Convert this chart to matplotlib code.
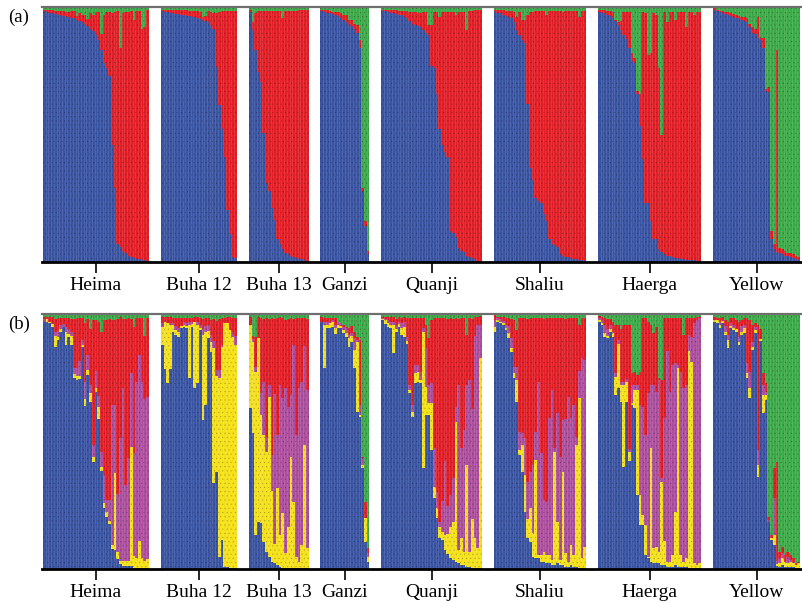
import numpy as np
import matplotlib
matplotlib.use("Agg")
import matplotlib.pyplot as plt

plt.rcParams['font.family'] = ['Liberation Serif', 'DejaVu Serif']
plt.rcParams['hatch.linewidth'] = 0.35

# Poblaciones y número de individuos (orden de izquierda a derecha)
poblaciones = ['Heima', 'Buha 12', 'Buha 13', 'Ganzi', 'Quanji', 'Shaliu', 'Haerga', 'Yellow']

# ---------- Panel (a), K = 3: azul (abajo) y verde (arriba) en %, rojo = resto ----------
heima_a_blue = [98.5, 98, 97.8, 97.5, 97.2, 97, 96.8, 96.5, 96.2, 96, 95.8, 95.5, 95, 94.5, 94, 93.5,
                92.5, 91.5, 90.5, 89, 87, 83, 78, 76, 73, 46, 29, 7, 6, 4.5, 3.5, 2.5, 1.8, 1.5, 1.2,
                1, 0.8, 0.6, 0.5]
heima_a_green = [1, 1, 1.2, 1.2, 1.5, 1.5, 1.5, 1.5, 1.8, 2, 1.5, 1.5, 3.5, 2.5, 3.3, 3, 4.6, 2.5, 3,
                 2, 2, 10.5, 3, 2, 2, 2.5, 2, 1.5, 16, 2.5, 2, 2, 1.5, 5, 1.5, 1.5, 8.5, 8, 1]
buha12_a_blue = [98.5, 98.2, 98, 97.8, 97.6, 97.4, 97.2, 97, 96.8, 96.6, 96.4, 96.2, 96, 95.7, 95.4,
                 95, 94.5, 94, 93, 91.5, 76.5, 61.5, 52, 41, 20.5, 11, 2, 1.5]
buha12_a_green = [1, 1, 1, 1, 1, 1, 1, 1.2, 1.2, 1.2, 1.5, 1.5, 1.5, 1.5, 2, 3.9, 3.5, 1.5, 2, 2.5,
                  2.5, 2, 1.5, 1.5, 1.5, 1.5, 1.5, 1.5]
buha13_a_blue = [98, 91, 83, 74.5, 70.5, 50.5, 31, 28, 21, 16.5, 9, 7, 5, 3.5, 3, 2.5, 2, 1.5, 1.2,
                 1, 0.8, 0.5]
buha13_a_green = [1, 6, 2.5, 1.5, 1.5, 1.5, 1.5, 1.5, 1.5, 1.5, 1.5, 1.5, 4.5, 1.5, 1.5, 1.5, 1.5,
                  1.5, 1, 1, 1, 1]
ganzi_a_blue = [98.5, 98, 97.8, 97.5, 97.2, 97, 96.5, 95.5, 95, 94, 93.5, 92.5, 91.5, 90, 84, 28, 14, 3]
ganzi_a_green = [1, 1.2, 1.2, 1.5, 2, 2, 2, 2.5, 3, 3, 5, 5, 6.5, 7, 13, 71, 84, 95.5]
quanji_a_blue = [98.5, 98.3, 98, 97.8, 97.6, 97.4, 97, 96.8, 96.2, 95.5, 94.5, 93.5, 93, 92.5, 92, 91,
                 90, 89, 77, 76, 66, 52, 46, 43, 41, 12, 11.5, 10, 5.5, 4.5, 4, 2.5, 2, 1.5, 1, 0.5, 0.3]
quanji_a_green = [1, 1, 1, 1, 1.2, 1.2, 1.5, 1.5, 1.5, 1.5, 2, 2, 2, 2.5, 2.5, 2, 2, 7, 7, 2, 2, 4, 2,
                  2, 2, 2, 2, 3, 2, 2, 2, 9, 1.5, 1.5, 1, 1, 1]
shaliu_a_blue = [98.5, 97.8, 97.5, 97, 96.5, 96, 95.5, 94, 91, 89, 87, 86, 62, 37, 32, 25, 24, 23, 19,
                 16, 9, 7, 6.5, 6, 3, 2.5, 2, 2, 1.5, 1.2, 1, 0.8, 0.6, 0.5]
shaliu_a_green = [1, 1, 1, 1.2, 1.5, 1.5, 1.5, 2, 4, 2, 5, 5, 3, 2, 2, 1.5, 1.5, 1.5, 1.5, 3, 1.5,
                  1.5, 1.5, 1.5, 1.5, 2, 1.5, 1.5, 1.5, 1.5, 1.5, 4, 1.5, 1.5]
haerga_a_blue = [98, 97.8, 97.5, 97, 96.3, 95.8, 94.5, 92.8, 91, 89, 87.5, 84, 79, 78, 66, 53.5, 40.5,
                 23, 23, 16, 9, 9, 5, 4, 3.3, 2.5, 2.2, 2, 1.6, 1.5, 1.3, 1, 0.8, 0.8, 0.7, 0.6, 0.5, 0.5]
haerga_a_green = [1, 1, 1.2, 1.5, 1.5, 2, 5, 6, 5.5, 2, 2, 2, 18, 20, 33, 34, 2, 2.5, 19, 18, 2.5, 3,
                  24, 50, 2, 6, 2, 2, 5, 2, 2, 2, 8, 2, 2, 3, 2, 2]
yellow_a_blue = [99, 98.5, 98, 97.5, 97.2, 97, 96.5, 96.2, 95.8, 95.5, 95, 94.5, 94, 92, 90, 89.5, 88,
                 87, 84, 67, 66.5, 9, 5, 4, 3.5, 3, 2.5, 2.2, 2, 1.5, 1, 0.8]
yellow_a_green = [0.5, 1, 1.5, 1.7, 2, 2, 2.5, 2.8, 3.2, 3.5, 4, 4, 4.5, 6.5, 8, 8.5, 4, 12, 12, 32,
                  31.5, 88, 93, 17, 94.5, 95, 95.5, 96.3, 96.5, 97, 97.5, 98.2]

# ---------- Panel (b), K = 5: (azul, amarillo, morado, rojo, verde) en % ----------
heima_b = [(97, 0, 1, 1, 1), (97, 1, 0, 1, 1), (96.5, 0.5, 0, 2, 1), (95, 1, 0, 3, 1),
           (87, 4.5, 1.5, 5, 2), (90, 1, 2.5, 5, 1.5), (93, 1, 1.5, 3, 1.5), (95, 0, 1, 2.5, 1.5),
           (88, 5, 2, 3.5, 1.5), (91, 1, 2, 4.5, 1.5), (88, 3.5, 1.5, 5, 2), (75, 1.5, 2.5, 19, 2),
           (74, 1.5, 3.5, 19.5, 1.5), (74.5, 1, 6, 17, 1.5), (87, 1, 2, 8.5, 1.5), (64, 2.5, 7, 23, 3.5),
           (76, 2, 6, 14, 2), (65.5, 3.5, 3, 22, 6), (42, 2, 4.5, 49, 2.5), (69.5, 1.5, 6.5, 20, 2.5),
           (59, 4.5, 4.5, 29, 3), (38.5, 1.5, 6, 47, 7), (24, 2, 11, 60.5, 2.5), (20.5, 2, 4.5, 70.5, 2.5),
           (17.5, 1.5, 8, 71, 2), (8, 1.5, 55, 33, 2.5), (7.5, 30, 27, 33, 2.5), (4, 2.5, 23, 68.5, 2),
           (2, 1, 48.5, 47.5, 1), (1, 2, 68, 27, 2), (1, 2, 30, 65, 2), (1, 2, 40.5, 55, 1.5),
           (1, 47, 29, 21, 2), (0.5, 4.5, 40.5, 49.5, 5), (0.5, 4, 69, 25, 1.5), (0.5, 10.5, 73, 14.5, 1.5),
           (0.5, 4, 69, 25, 1.5), (0.5, 2.5, 63.5, 25, 8.5), (0.5, 3.5, 63.5, 31, 1.5)]
buha12_b = [(88, 7, 1.5, 2.5, 1), (78.5, 18.5, 0, 2, 1), (73, 23.5, 0, 2.5, 1), (78.5, 17, 1, 2.5, 1),
            (93, 2.6, 0.7, 2.2, 1.5), (91.8, 2, 1.3, 3.3, 1.6), (91.1, 2, 1.6, 3.7, 1.6),
            (94.4, 1, 0, 2.9, 1.7), (95, 0.7, 1, 1.6, 1.7), (94.4, 1, 1, 2, 1.6),
            (74.8, 20.9, 1.3, 1.6, 1.4), (95, 1, 1, 1.5, 1.5), (70.8, 26.1, 0, 2, 1.1),
            (72.8, 22.9, 1, 2, 1.3), (93.7, 0.7, 1.3, 2.6, 1.7), (58.4, 33.3, 2.6, 3.9, 1.8),
            (64.3, 28.8, 2, 3.3, 1.6), (90.5, 3, 2, 3, 1.5), (85.2, 3.9, 2.6, 5.9, 2.4),
            (33.6, 52.9, 3, 8.5, 2), (38.2, 37.3, 2.6, 19, 2.9), (4.8, 70, 3.3, 20, 1.9),
            (11.4, 75.8, 0.7, 10.5, 1.6), (0.9, 95.4, 0, 2, 1.7), (0.9, 95.4, 0, 2.6, 1.1),
            (0.3, 93.5, 0, 5.2, 1), (0.3, 90.8, 2, 5.2, 1.7), (0.3, 87.6, 3.3, 7.2, 1.6)]
buha13_b = [(63, 32.5, 0, 3.5, 1), (53.2, 36, 1, 1, 8.8), (13.3, 64, 2, 11.8, 8.9), (18.6, 71.9, 0, 8.5, 1),
            (17.9, 42.5, 8.5, 29.4, 1.7), (10.7, 41.8, 20.9, 24.8, 1.8), (6.8, 39.2, 5.9, 46.4, 1.7),
            (4.8, 62.7, 4.6, 26.1, 1.8), (2.9, 27.5, 14.4, 53.6, 1.6), (2.2, 7.8, 58.8, 29.4, 1.8),
            (1.6, 30, 21, 45.8, 1.6), (0.9, 12.4, 58.8, 26.8, 1.1), (0.3, 21.6, 45, 31.4, 1.7),
            (0.3, 5.9, 64.7, 26.8, 2.3), (0.3, 16.3, 47, 34.6, 1.8), (0.3, 43.8, 24.2, 30, 1.7),
            (0.3, 26, 61.4, 10.5, 1.8), (0.3, 4.6, 47.7, 45.8, 1.6), (0.3, 2.6, 68, 27.5, 1.6),
            (0.3, 9.2, 64, 24.8, 1.7), (0.3, 48.4, 38.6, 11.1, 1.6), (0.3, 7.8, 62, 28.1, 1.8)]
ganzi_b = [(97, 0, 0, 2, 1), (78.7, 17, 1.3, 1.3, 1.7), (94.4, 1.3, 1.3, 1.6, 1.4), (94.6, 1.7, 0, 2, 1.7),
           (95, 2, 0.7, 0.9, 1.4), (92, 2.4, 1.3, 2.6, 1.7), (94.4, 1.3, 1.3, 0, 3), (94.4, 0.7, 1.3, 0, 3.6),
           (92.4, 1.3, 1.3, 0.7, 4.3), (91.1, 1.3, 2, 0.6, 5), (87.2, 3.3, 1.3, 2.6, 5.6),
           (89.2, 2, 1.3, 2.6, 4.9), (78.7, 7.2, 4.6, 2.6, 6.9), (61.7, 27.5, 0.6, 1.3, 8.9),
           (59.7, 0.6, 3.9, 25.5, 10.2), (39.5, 1.3, 2.6, 0.7, 55.9), (10.7, 9.2, 0, 6.5, 73.6),
           (2.9, 2, 1.3, 2, 91.8)]
quanji_b = [(97.5, 0.5, 0.5, 0.5, 1), (96.3, 1.3, 0.5, 1, 1), (95, 1.3, 1.3, 1.3, 1.1), (94.4, 1.3, 1.3, 2, 1),
            (84.6, 11.1, 1.3, 2, 1), (93, 1.3, 1.3, 2.6, 1.8), (95, 1, 1, 2, 1), (91.8, 2.6, 2, 2, 1.6),
            (91.1, 3.9, 2, 2, 1), (88.1, 1.3, 1.7, 7.2, 1.7), (69, 1.3, 2, 26.1, 1.6), (59.7, 2, 2.6, 34, 1.7),
            (72.8, 3.9, 3.3, 18.3, 1.7), (73.5, 3.9, 2.6, 18.3, 1.7), (72.8, 1.3, 3.3, 20.9, 1.7),
            (39.5, 53.6, 1.3, 3.9, 1.7), (60.4, 11.1, 15, 9.2, 4.3), (60.4, 4.6, 7.2, 18.3, 9.5),
            (46.7, 18.3, 7.8, 24.8, 2.4), (27.7, 4.6, 15, 51, 1.7), (19.9, 3.9, 6.5, 68, 1.7),
            (12, 4.6, 2, 79.7, 1.7), (11.4, 3.3, 11.8, 71.9, 1.6), (7.5, 5.9, 28.8, 56.2, 1.6),
            (6, 7.8, 11.1, 73.2, 1.9), (4.2, 12.4, 12.4, 69.3, 1.7), (3.5, 15, 17, 62.7, 1.8),
            (2.9, 54.9, 5.9, 34.6, 1.7), (2.2, 5.2, 64.7, 26.1, 1.8), (1.6, 10.5, 35.3, 51, 1.6),
            (1.6, 5.2, 47.7, 43.8, 1.7), (0.9, 39.9, 31.4, 19.6, 8.2), (0.9, 5.9, 67.3, 24.2, 1.7),
            (0.5, 19.3, 43.1, 35.3, 1.8), (0.3, 11.8, 79.1, 7.8, 1), (0.3, 7.8, 87.6, 3.3, 1),
            (0.3, 82.4, 13.1, 3.3, 0.9)]
shaliu_b = [(93.1, 1.9, 2.6, 2, 0.4), (97, 0.7, 0.7, 0.6, 1), (96.3, 0.7, 1, 1, 1), (95.7, 0.7, 1, 1.6, 1),
            (93.7, 0.7, 1.3, 2.6, 1.7), (90.5, 2, 2.6, 3.3, 1.6), (85.2, 1.3, 3.9, 7.8, 1.8),
            (74.8, 2, 2.6, 18.3, 2.3), (65.6, 8.5, 5.2, 14.4, 6.3), (44.7, 2, 7.2, 44.4, 1.7),
            (38.2, 10.5, 4.6, 45, 1.7), (22.5, 14.4, 14.4, 47, 1.7), (12, 7.8, 14.4, 64, 1.8),
            (10.7, 13.1, 14.4, 60.1, 1.7), (4.8, 9.2, 26.8, 57.5, 1.7), (4.2, 38.6, 11.1, 44.4, 1.7),
            (4.2, 1.3, 68, 24.8, 1.7), (2.9, 2.6, 39.9, 52.9, 1.7), (2.9, 3.9, 20.3, 71, 1.9),
            (2.2, 3.3, 20.9, 71.9, 1.7), (2.2, 3.3, 53.6, 39.2, 1.7), (1.6, 2, 66.7, 28.1, 1.6),
            (1.6, 44.4, 1.3, 51, 1.7), (2.2, 16.3, 42.5, 37.3, 1.7), (1.6, 2, 40.5, 54.2, 1.7),
            (1.6, 36.6, 20.3, 39.9, 1.6), (0.9, 5.2, 52.9, 39.2, 1.8), (0.9, 2, 64.7, 30.7, 1.7),
            (1.6, 7.8, 49.7, 39.2, 1.7), (0.9, 4.6, 58.8, 34, 1.7), (0.9, 47.7, 3.3, 46.4, 1.7),
            (0.3, 66.7, 10.5, 18.3, 4.2), (0.3, 3.9, 78.4, 15.7, 1.7), (0.3, 8.5, 73.2, 16.3, 1.7)]
haerga_b = [(97, 0.7, 0.7, 0.7, 0.9), (95.7, 0.7, 1.3, 1.3, 1), (91.1, 1.3, 3.3, 2.6, 1.7),
            (90.5, 0.7, 3, 4, 1.8), (93, 1.3, 1.3, 2.6, 1.8), (91.1, 1.3, 0.7, 3.9, 3),
            (68.2, 7.2, 1.3, 19, 4.3), (70.8, 17.6, 1.3, 5.9, 4.4), (65.6, 6.5, 1.3, 20.9, 5.7),
            (40.1, 32, 1.3, 22.2, 4.4), (65.6, 7.8, 1.3, 20.9, 4.4), (42.5, 3.3, 1.3, 48.4, 4.5),
            (64.3, 0.7, 7.2, 4.6, 23.2), (63, 7.2, 2, 5.2, 22.6), (29, 41.2, 2, 3.9, 23.9),
            (17.3, 11.8, 35.3, 13, 22.6), (17.3, 3.9, 42.5, 34.6, 1.7), (5.5, 11.8, 35.3, 45.8, 1.6),
            (4.2, 0.7, 64, 28.1, 3), (2.9, 44.4, 24.8, 23.5, 4.4), (2.2, 5.9, 64, 20.3, 7.6),
            (2.2, 6.5, 60.8, 25.5, 5), (2.2, 4.6, 67.3, 0.7, 25.2), (1.6, 32.7, 1.3, 38.6, 25.8),
            (1.6, 9.2, 48.4, 39.2, 1.6), (0.9, 2, 82.4, 13.1, 1.6), (0.9, 2, 66.7, 28.8, 1.6),
            (0.9, 4.6, 74.5, 18.3, 1.7), (1.6, 20.9, 58.2, 17.6, 1.7), (0.9, 77.8, 1.3, 18.3, 1.7),
            (0.9, 4.6, 71.9, 20.9, 1.7), (0.9, 2, 68, 20.9, 8.2), (0.9, 3.3, 68, 26.1, 1.7),
            (0.3, 85, 6.5, 6.5, 1.7), (0.3, 81, 9.8, 7.2, 1.7), (0.3, 2, 94.1, 2, 1.6),
            (0.3, 1.3, 96.1, 1.3, 1), (0.3, 2, 96.1, 0.7, 1)]
yellow_b = [(97, 0.7, 0, 1.3, 1), (96.3, 1.3, 0, 1, 1.4), (94.4, 1.3, 1.3, 1.3, 1.7), (96.3, 1, 0.5, 1, 1.2),
            (91.8, 1.3, 2, 2.6, 2.3), (86.5, 3.3, 2, 5.2, 3), (94.4, 1, 1, 2, 1.6), (93.7, 0.7, 1.3, 2.6, 1.7),
            (93, 1.3, 0, 3.3, 2.4), (87.8, 1.3, 2, 5.9, 3), (91.8, 1.3, 2, 2.6, 2.3), (92.4, 2, 1.3, 2.6, 1.7),
            (74.8, 2, 3.9, 17.6, 1.7), (67, 3.9, 6.5, 20.3, 2.3), (85.9, 1.3, 2, 6.5, 4.3),
            (92.4, 1.3, 1.3, 1.3, 3.7), (36.2, 4.6, 5.9, 49, 4.3), (89.5, 0.7, 0, 3.9, 5.9),
            (61, 7.2, 3.9, 4.6, 23.3), (66.3, 2, 1.3, 3.3, 27.1), (18.6, 0, 0.7, 1, 79.7),
            (11.4, 0.7, 0, 1.3, 86.6), (9.4, 3.9, 14.4, 11.8, 60.5), (1, 1, 1, 39, 58),
            (0.9, 1.3, 2, 2.6, 93.2), (1.6, 2.6, 2, 2.6, 91.2), (0.9, 2, 0, 2.6, 94.5),
            (0.9, 1.3, 2.6, 2, 93.2), (0.9, 2, 0.5, 2, 94.6), (0.9, 1.3, 0.7, 1.3, 95.8),
            (0.5, 1, 0, 0.7, 97.8), (0.5, 1.7, 0, 0.7, 97.1)]

panel_a = [(heima_a_blue, heima_a_green), (buha12_a_blue, buha12_a_green),
           (buha13_a_blue, buha13_a_green), (ganzi_a_blue, ganzi_a_green),
           (quanji_a_blue, quanji_a_green), (shaliu_a_blue, shaliu_a_green),
           (haerga_a_blue, haerga_a_green), (yellow_a_blue, yellow_a_green)]
panel_b = [heima_b, buha12_b, buha13_b, ganzi_b, quanji_b, shaliu_b, haerga_b, yellow_b]

# Colores de los grupos
azul = '#3a54a4'
rojo = '#e31e26'
verde = '#3caa48'
morado = '#ad4e9e'
amarillo = '#f5e11a'
textura = (0, 0, 0, 0.22)  # puntos oscuros como en la figura original

hueco = 4.4  # separación entre poblaciones (en anchos de barra)


def posiciones(tamanos):
    xs, centros = [], []
    inicio = 0.0
    for n in tamanos:
        xs.append(inicio + np.arange(n) + 0.5)
        centros.append(inicio + n / 2)
        inicio += n + hueco
    return xs, centros, inicio - hueco


def barras(ax, x, alto, base, color):
    ax.bar(x, alto, bottom=base, width=1.0, color=color, edgecolor=textura,
           linewidth=0, hatch='....')


def formato_eje(ax, centros, total):
    ax.set_xlim(-0.37, total + 0.74)
    ax.set_ylim(0, 1)
    ax.set_yticks([])
    ax.set_xticks(centros)
    ax.set_xticklabels(poblaciones, fontsize=14)
    ax.tick_params(axis='x', direction='out', length=8, width=1.2, pad=3, colors='black')
    for lado in ['left', 'right']:
        ax.spines[lado].set_visible(False)
    ax.spines['top'].set_color('#6e6e6e')
    ax.spines['top'].set_linewidth(1.6)
    ax.spines['bottom'].set_color('black')
    ax.spines['bottom'].set_linewidth(2)


fig = plt.figure(figsize=(8.02, 6.03), dpi=100)
ax_a = fig.add_axes([42 / 802, 1 - 262 / 603, 760 / 802, 255 / 603])
ax_b = fig.add_axes([42 / 802, 1 - 569 / 603, 760 / 802, 255 / 603])

# Panel (a)
xs, centros, total = posiciones([len(b) for b, g in panel_a])
for x, (blue, green) in zip(xs, panel_a):
    blue = np.array(blue) / 100
    green = np.array(green) / 100
    red = 1 - blue - green
    barras(ax_a, x, blue, 0, azul)
    barras(ax_a, x, red, blue, rojo)
    barras(ax_a, x, green, blue + red, verde)
    ax_a.vlines(x[1:] - 0.5, 0, 1, color='white', alpha=0.13, linewidth=0.6)
formato_eje(ax_a, centros, total)

# Panel (b)
colores_b = [azul, amarillo, morado, rojo, verde]
xs, centros, total = posiciones([len(p) for p in panel_b])
for x, filas in zip(xs, panel_b):
    q = np.array(filas, dtype=float)
    q = q / q.sum(axis=1, keepdims=True)
    base = np.zeros(len(q))
    for k, c in enumerate(colores_b):
        barras(ax_b, x, q[:, k], base.copy(), c)
        base += q[:, k]
    ax_b.vlines(x[1:] - 0.5, 0, 1, color='white', alpha=0.13, linewidth=0.6)
formato_eje(ax_b, centros, total)

fig.text(8 / 802, 1 - 17 / 603, '(a)', fontsize=13.5, va='center', ha='left')
fig.text(8 / 802, 1 - 324 / 603, '(b)', fontsize=13.5, va='center', ha='left')

fig.savefig('out.png', dpi=100)
